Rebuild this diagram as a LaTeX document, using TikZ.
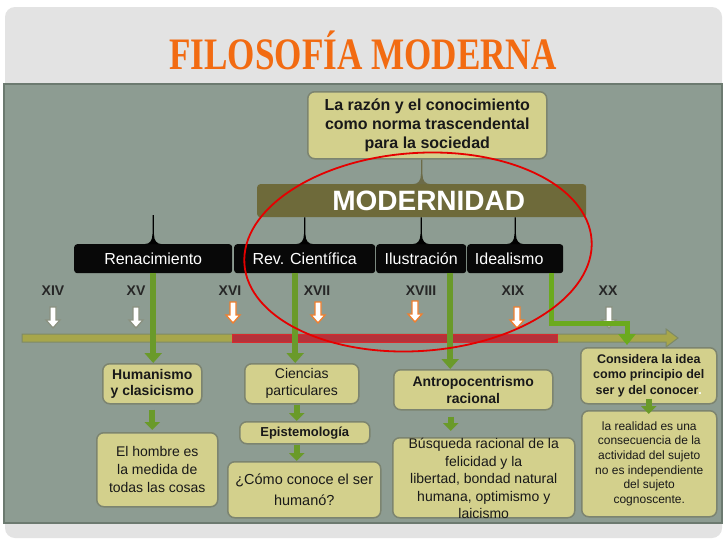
\documentclass[tikz,border=0pt]{standalone}
\usepackage{fontspec}
\usepackage{graphicx}
\setmainfont{Liberation Sans}
\newfontfamily\titlefont{Liberation Serif}
\usetikzlibrary{arrows.meta,calc}
\definecolor{panel}{HTML}{8D9C92}
\definecolor{panelborder}{HTML}{6C7A70}
\definecolor{framegrey}{HTML}{E3E3E3}
\definecolor{khaki}{HTML}{D3D08C}
\definecolor{boxborder}{HTML}{7C8470}
\definecolor{modolive}{HTML}{6E6A3A}
\definecolor{spikeolive}{HTML}{6C6B48}
\definecolor{barkhaki}{HTML}{A7A64B}
\definecolor{barborder}{HTML}{7E8A66}
\definecolor{barred}{HTML}{B5323A}
\definecolor{redborder}{HTML}{D82A2E}
\definecolor{arrgreen}{HTML}{6A9A2A}
\definecolor{elbgreen}{HTML}{6BAA1E}
\definecolor{titleorange}{HTML}{F26B12}
\definecolor{centorange}{HTML}{F07F2F}
\definecolor{centgrey}{HTML}{8A9180}
\newcommand{\spikeconn}[3]{%
  \fill[#3] let \p1=(#1), \p2=(#2) in
    (\x2-0.7pt,\y1) -- (\x2-0.7pt,\y2+10pt)
    .. controls (\x2-0.7pt,\y2+3pt) and (\x2-4pt,\y2) .. (\x2-8pt,\y2)
    -- (\x2+8pt,\y2)
    .. controls (\x2+4pt,\y2) and (\x2+0.7pt,\y2+3pt) .. (\x2+0.7pt,\y2+10pt)
    -- (\x2+0.7pt,\y1) -- cycle;}
\newcommand{\cenarr}[3]{%
  \draw[#3, line width=1.3pt, fill=white, line join=miter]
    (#1-3,#2) -- (#1+3,#2) -- (#1+3,#2+13) -- (#1+7,#2+13) -- (#1,#2+21)
    -- (#1-7,#2+13) -- (#1-3,#2+13) -- cycle;}
\tikzset{
  kbox/.style={fill=khaki, draw=boxborder, line width=1.5pt, rounded corners=7pt,
    inner sep=0pt, align=center, anchor=north west, text=black!90},
  bbar/.style={fill=black!97, rounded corners=3pt, inner sep=0pt, anchor=north west,
    minimum height=29pt, text=white, font=\fontsize{16}{19}\selectfont},
  cent/.style={font=\bfseries\fontsize{14}{16}\selectfont, text=black!85},
  garrow/.style={draw=arrgreen, line width=6.5pt, -{Triangle[width=17pt,length=10pt]}},
  sgarrow/.style={draw=arrgreen, line width=6pt, -{Triangle[width=15pt,length=8pt]}},
}
\begin{document}
\begin{tikzpicture}[x=1pt,y=-1pt]
\useasboundingbox (0,0) rectangle (728,546);
\fill[white] (0,0) rectangle (728,546);
\fill[framegrey, rounded corners=10pt] (5,7) rectangle (722,538);
\draw[panelborder, line width=1.5pt, fill=panel] (4,84) rectangle (722,523);

\node[font=\titlefont\bfseries\fontsize{45}{50}\selectfont, text=titleorange, inner sep=0pt] (title) at (363,50)
  {\scalebox{0.78}[1]{FILOSOFÍA MODERNA}};

% top box and MODERNIDAD bar
\node[kbox, minimum width=239pt, minimum height=67pt, font=\bfseries\fontsize{16}{19}\selectfont] (razon) at (307,91)
  {La razón y el conocimiento\\como norma trascendental\\para la sociedad};
\node[fill=modolive, rounded corners=3pt, inner sep=0pt, anchor=north west, minimum width=329pt, minimum height=33pt,
  text=white, font=\bfseries\fontsize{28}{30}\selectfont] (mod) at (257,184) {\hspace*{14pt}MODERNIDAD};

% black bars
\node[bbar, minimum width=158pt] (ren) at (74,244) {Renacimiento};
\node[bbar, minimum width=141pt] (rev) at (234,244) {Rev. Científica};
\node[bbar, minimum width=90pt] (ilu) at (376,244) {Ilustración};
\node[bbar, minimum width=96pt] (ide) at (467,244) {Idealismo\hspace*{12pt}};

% spikes
\spikeconn{razon.south}{mod.north}{spikeolive}
\spikeconn{$(ren.north)+(0,-29)$}{ren.north}{black}
\spikeconn{mod.south -| rev.north}{rev.north}{black}
\spikeconn{mod.south -| ilu.north}{ilu.north}{black}
\spikeconn{mod.south -| ide.north}{ide.north}{black}

% centuries
\node[cent] (c14) at (53,291) {XIV};
\node[cent] (c15) at (136,291) {XV};
\node[cent] (c16) at (230,291) {XVI};
\node[cent] (c17) at (317,291) {XVII};
\node[cent] (c18) at (421,291) {XVIII};
\node[cent] (c19) at (513,291) {XIX};
\node[cent] (c20) at (608,291) {XX};

% timeline
\draw[barborder, fill=barkhaki, line width=1pt, line join=miter]
  (22,334) -- (666,334) -- (666,329) -- (678,338) -- (666,347) -- (666,342) -- (22,342) -- cycle;
\draw[redborder, fill=barred, line width=1pt] (232,334) rectangle (557,342);

\cenarr{53}{307}{centgrey}
\cenarr{136}{307}{centgrey}
\cenarr{233}{302}{centorange}
\cenarr{318}{302}{centorange}
\cenarr{415}{301}{centorange}
\cenarr{517}{307}{centorange}
\cenarr{609}{307}{centgrey}

% content boxes
\node[kbox, minimum width=99pt, minimum height=40pt, font=\bfseries\fontsize{14}{16.5}\selectfont] (hum) at (102,363)
  {Humanismo\\y clasicismo};
\node[kbox, minimum width=121pt, minimum height=74pt, font=\fontsize{14}{18}\selectfont] (hombre) at (96,432)
  {El hombre es\\la medida de\\todas las cosas};
\node[kbox, minimum width=114pt, minimum height=40pt, font=\fontsize{14}{17}\selectfont] (cien) at (244,363)
  {Ciencias\\particulares};
\node[kbox, minimum width=130pt, minimum height=22pt, font=\bfseries\fontsize{13}{15}\selectfont] (epi) at (239,421)
  {Epistemología};
\node[kbox, minimum width=153pt, minimum height=56pt, font=\fontsize{14.5}{21}\selectfont] (como) at (227,461)
  {¿Cómo conoce el ser\\humanó?};
\node[kbox, minimum width=159pt, minimum height=40pt, font=\bfseries\fontsize{14}{17}\selectfont] (antro) at (393,369)
  {Antropocentrismo\\racional};
\node[kbox, minimum width=182pt, minimum height=80pt] (busq) at (392,437) {};
\node[font=\fontsize{14}{17.5}\selectfont, align=center, inner sep=0pt, text=black!90] (busqtext) at ($(busq.center)+(0,1)$)
  {Búsqueda racional de la\\felicidad y la\\libertad, bondad natural\\humana, optimismo y\\laicismo};
\node[kbox, minimum width=136pt, minimum height=56pt, font=\bfseries\fontsize{12.5}{15.5}\selectfont] (consid) at (580,347)
  {Considera la idea\\como principio del\\ser y del conocer{\color{white}.}};
\node[kbox, minimum width=135pt, minimum height=106pt, font=\fontsize{12}{14.7}\selectfont] (real) at (581,410)
  {la realidad es una\\consecuencia de la\\actividad del sujeto\\no es independiente\\del sujeto\\cognoscente.};

% green arrows
\draw[garrow] (ren.south) -- (ren.south |- hum.north);
\draw[garrow] ([xshift=-9.5pt]rev.south) -- ([xshift=-9.5pt]rev.south |- cien.north);
\draw[garrow] ([xshift=29pt]ilu.south) -- ([xshift=29pt]ilu.south |- antro.north);
\coordinate (elb) at (627,323);
\draw[draw=elbgreen, line width=5pt, line join=miter, -{Triangle[width=17pt,length=11pt]}, shorten >=2pt]
  ([xshift=-12pt]ide.south east) |- (elb) -- (elb |- consid.north);

\draw[sgarrow, shorten >=2pt] ([yshift=-5pt]hum.south) -- (hum.south |- hombre.north);
\draw[sgarrow] ([xshift=-5pt]cien.south) -- ([xshift=-5pt]cien.south |- epi.north);
\draw[sgarrow] ([xshift=-8pt]epi.south) -- ([xshift=-8pt]epi.south |- como.north);
\draw[sgarrow, shorten >=6pt] ([xshift=-22.5pt,yshift=-6pt]antro.south) -- ([xshift=-22.5pt]antro.south |- busq.north);
\draw[sgarrow, shorten >=-4pt] ([yshift=6pt]consid.south) -- (consid.south |- real.north);

% red ellipse
\draw[red!90!black, line width=1.8pt, rotate around={4:(418,252)}] (418,252) ellipse [x radius=174, y radius=99];
\end{tikzpicture}
\end{document}
